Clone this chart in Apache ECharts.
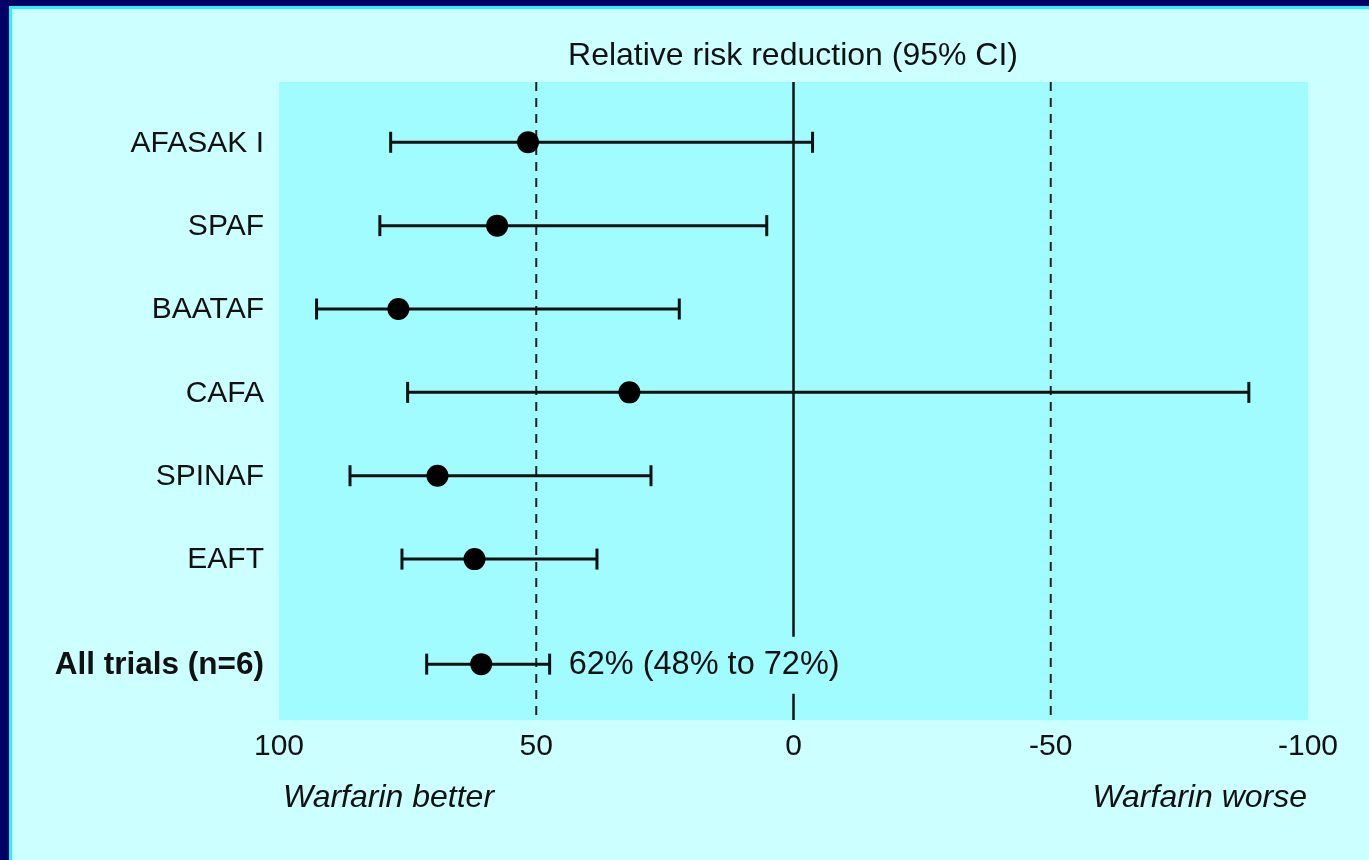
<!DOCTYPE html>
<html>
<head>
<meta charset="utf-8">
<style>
  html, body { margin: 0; padding: 0; background: #ccffff; }
  #chart { width: 1369px; height: 860px; }
</style>
<script src="https://cdn.jsdelivr.net/npm/echarts@6/dist/echarts.min.js"></script>
</head>
<body>
<div id="chart"></div>
<script>
// ---- data ----
const trials = ['AFASAK I', 'SPAF', 'BAATAF', 'CAFA', 'SPINAF', 'EAFT', 'All trials (n=6)'];
const rrr    = [51.6, 57.6, 76.8, 31.9, 69.2, 62.0, 60.7];
const ciUpper = [78.3, 80.4, 92.7, 75.0, 86.2, 76.1, 71.3];   // left end (larger reduction)
const ciLower = [-3.7, 5.2, 22.2, -88.5, 27.7, 38.2, 47.4];   // right end
const rowPos = [1, 2, 3, 4, 5, 6, 7.26];
const xTicks = [100, 50, 0, -50, -100];
const refLines = [50, 0, -50];
const summaryLabel = '62% (48% to 72%)';
const titleText = 'Relative risk reduction (95% CI)';
const leftNote = 'Warfarin better';
const rightNote = 'Warfarin worse';

// ---- styles ----
const FONT = '"Liberation Sans", Arial, sans-serif';
const INK = '#111111';
const PLOT_BG = '#a0fcff';
const PAGE_BG = '#ccffff';

const chart = echarts.init(document.getElementById('chart'), null, { renderer: 'canvas' });

const errData = trials.map((t, i) => [ciUpper[i], ciLower[i], rowPos[i]]);
const pointData = trials.map((t, i) => [rrr[i], rowPos[i]]);
const nameData = trials.map((t, i) => [100, rowPos[i], t]);

const option = {
  backgroundColor: PAGE_BG,
  animation: false,
  textStyle: { fontFamily: FONT },
  grid: { left: 279, right: 61, top: 82, bottom: 140, show: true, backgroundColor: PLOT_BG, borderWidth: 0, containLabel: false },
  xAxis: {
    type: 'value', min: -100, max: 100, interval: 50, inverse: true,
    axisLine: { show: false }, axisTick: { show: false }, splitLine: { show: false },
    axisLabel: {
      color: INK, fontSize: 30, fontFamily: FONT, margin: 12,
      formatter: v => xTicks.includes(v) ? String(v) : ''
    }
  },
  yAxis: {
    type: 'value', min: 0.277, max: 7.93, inverse: true, show: false
  },
  graphic: [
    { type: 'rect', shape: { x: 0, y: 0, width: 9, height: 860 }, style: { fill: '#000066' }, z: 100 },
    { type: 'rect', shape: { x: 0, y: 0, width: 1369, height: 6 }, style: { fill: '#000066' }, z: 100 },
    { type: 'rect', shape: { x: 9, y: 6, width: 3, height: 854 }, style: { fill: '#22f4f8' }, z: 100 },
    { type: 'rect', shape: { x: 9, y: 6, width: 1360, height: 3 }, style: { fill: '#22f4f8' }, z: 100 },
    { type: 'text', x: 793, y: 56, style: { text: titleText, font: '32px ' + FONT, fill: INK, textAlign: 'center', textVerticalAlign: 'middle' } },
    { type: 'text', x: 283, y: 798, style: { text: leftNote, font: 'italic 32px ' + FONT, fill: INK, textAlign: 'left', textVerticalAlign: 'middle' } },
    { type: 'text', x: 1307, y: 798, style: { text: rightNote, font: 'italic 32px ' + FONT, fill: INK, textAlign: 'right', textVerticalAlign: 'middle' } }
  ],
  series: [
    {
      // reference lines (0 solid, ±50 dashed)
      type: 'custom', z: 1, silent: true,
      data: refLines.map(v => [v]),
      renderItem: function (params, api) {
        const v = api.value(0);
        const cs = params.coordSys;
        const x = api.coord([v, 1])[0];
        const isZero = v === 0;
        return {
          type: 'line',
          shape: { x1: x, y1: cs.y, x2: x, y2: cs.y + cs.height },
          style: isZero ? { stroke: INK, lineWidth: 2.5 } : { stroke: '#222', lineWidth: 2, lineDash: [9, 7] }
        };
      }
    },
    {
      // confidence interval bars
      type: 'custom', z: 3, silent: true,
      data: errData,
      renderItem: function (params, api) {
        const y = api.value(2);
        const p1 = api.coord([api.value(0), y]);
        const p2 = api.coord([api.value(1), y]);
        const cap = 10.5;
        const st = { stroke: INK, lineWidth: 3 };
        const children = [
          { type: 'line', shape: { x1: p1[0], y1: p1[1], x2: p2[0], y2: p2[1] }, style: st },
          { type: 'line', shape: { x1: p1[0], y1: p1[1] - cap, x2: p1[0], y2: p1[1] + cap }, style: st },
          { type: 'line', shape: { x1: p2[0], y1: p2[1] - cap, x2: p2[0], y2: p2[1] + cap }, style: st }
        ];
        if (params.dataIndex === trials.length - 1) {
          children.push({
            type: 'text', z2: 10,
            x: p2[0] + 16, y: p2[1] + 1,
            style: {
              text: summaryLabel, font: '32.5px ' + FONT, fill: INK,
              textAlign: 'left', textVerticalAlign: 'middle',
              backgroundColor: PLOT_BG, padding: [12, 3, 12, 3]
            }
          });
        }
        return { type: 'group', children: children };
      }
    },
    {
      // trial names
      type: 'custom', z: 3, silent: true,
      data: nameData,
      renderItem: function (params, api) {
        const p = api.coord([api.value(0), api.value(1)]);
        const i = params.dataIndex;
        const bold = i === trials.length - 1;
        return {
          type: 'text', x: p[0] - 15, y: p[1] + 1,
          style: {
            text: trials[i], font: (bold ? 'bold 31.5px ' : '30px ') + FONT, fill: INK,
            textAlign: 'right', textVerticalAlign: 'middle'
          }
        };
      }
    },
    {
      type: 'scatter', z: 4, silent: true,
      data: pointData, symbol: 'circle', symbolSize: 22,
      itemStyle: { color: '#000000', opacity: 1 }
    }
  ]
};
chart.setOption(option);
</script>
</body>
</html>
